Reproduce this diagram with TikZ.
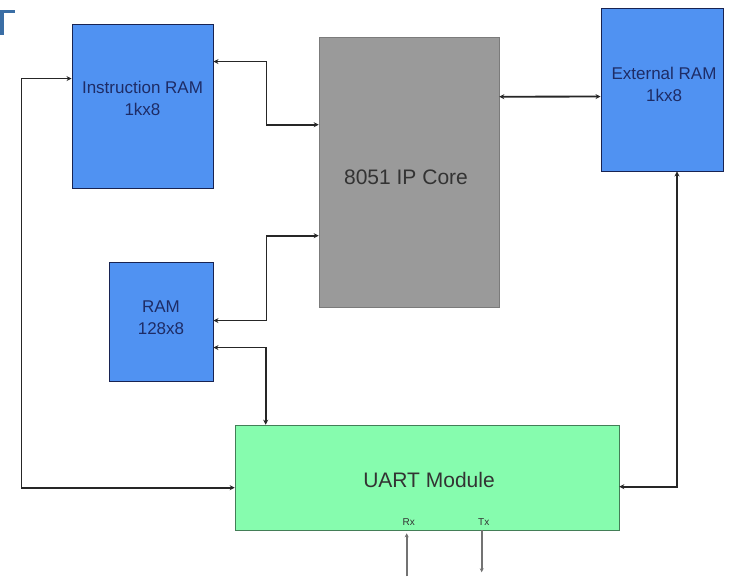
\documentclass[tikz,border=0pt]{standalone}
\usepackage{fontspec}
\setmainfont{Liberation Sans}
\usetikzlibrary{arrows.meta}
\definecolor{boxblue}{HTML}{5092F2}
\definecolor{boxgray}{HTML}{9A9A9A}
\definecolor{boxgreen}{HTML}{86FCAE}
\definecolor{navytext}{HTML}{1E2C66}
\definecolor{marker}{HTML}{3A6EA5}
\tikzset{
  bluebox/.style={draw=navytext!80!black, line width=0.9pt, fill=boxblue, inner sep=0pt},
  graybox/.style={draw=boxgray!80!black, line width=0.6pt, fill=boxgray, inner sep=0pt},
  greenbox/.style={draw=boxgreen!50!black, line width=0.6pt, fill=boxgreen, inner sep=0pt},
  bigtext/.style={font=\fontsize{17}{22}\selectfont, align=center, text=navytext, inner sep=0pt},
  hugetext/.style={font=\fontsize{21}{25}\selectfont, align=center, text=black!80, inner sep=0pt},
  pintext/.style={font=\fontsize{10}{11}\selectfont, text=black!80, inner sep=0pt},
  conn/.style={draw=black!85, line width=1.8pt, {Stealth[length=5pt,width=5pt]}-{Stealth[length=5pt,width=5pt]}},
  pinline/.style={draw=black!55, line width=1.6pt},
  tip/.style={-{Stealth[length=4pt,width=4pt]}}
}
\begin{document}
\begin{tikzpicture}[x=1pt,y=-1pt]
\useasboundingbox (0,0) rectangle (738,576);
\fill[white] (0,0) rectangle (738,576);
% corner mark
\fill[marker] (0,10) rectangle (15,12.5);
\fill[marker] (0,10) rectangle (4,35);
% boxes
\node[bluebox, minimum width=141pt, minimum height=164pt] (iram) at (142.5,106) {};
\node[bigtext] (iramtxt) at (142.5,98) {Instruction RAM\\1kx8};
\node[graybox, minimum width=180pt, minimum height=270pt] (core) at (409,172) {};
\node[hugetext] (coretxt) at (406,177) {8051 IP Core};
\node[bluebox, minimum width=122pt, minimum height=163pt] (ext) at (662,89.5) {};
\node[bigtext] (exttxt) at (664,84) {External RAM\\1kx8};
\node[bluebox, minimum width=104pt, minimum height=119pt] (ram) at (161,321.5) {};
\node[bigtext] (ramtxt) at (161,318) {RAM\\128x8};
\node[greenbox, minimum width=384pt, minimum height=105pt] (uart) at (427,477.5) {};
\node[hugetext] (uarttxt) at (429,480) {UART Module};
\node[pintext] (rx) at ([xshift=174pt,yshift=8pt]uart.south west) {Rx};
\node[pintext] (tx) at ([xshift=249pt,yshift=8pt]uart.south west) {Tx};
% connectors
\draw[conn] ([yshift=-38pt]iram.north east) -- ++(53,0) |- ([yshift=-88pt]core.north west);
\draw[conn] ([yshift=-55pt]iram.north west) -- ++(-50,0) |- ([yshift=-63pt]uart.north west);
\draw[conn] ([yshift=-60pt]core.north east) -- ([yshift=-89pt]ext.north west);
\draw[conn] ([xshift=15pt]ext.south) |- ([yshift=-62pt]uart.north east);
\draw[conn] ([yshift=-59pt]ram.north east) -- ++(53,0) |- ([yshift=-199pt]core.north west);
\draw[conn] ([yshift=-86pt]ram.north east) -| ([xshift=31pt]uart.north west);
% pins
\coordinate (rxend) at ([xshift=172pt,yshift=-46pt]uart.south west);
\coordinate (txend) at ([xshift=247pt,yshift=-42pt]uart.south west);
\draw[pinline, tip] (rxend) -- ([xshift=172pt,yshift=-3pt]uart.south west);
\draw[pinline, tip] ([xshift=247pt]uart.south west) -- (txend);
\end{tikzpicture}
\end{document}
